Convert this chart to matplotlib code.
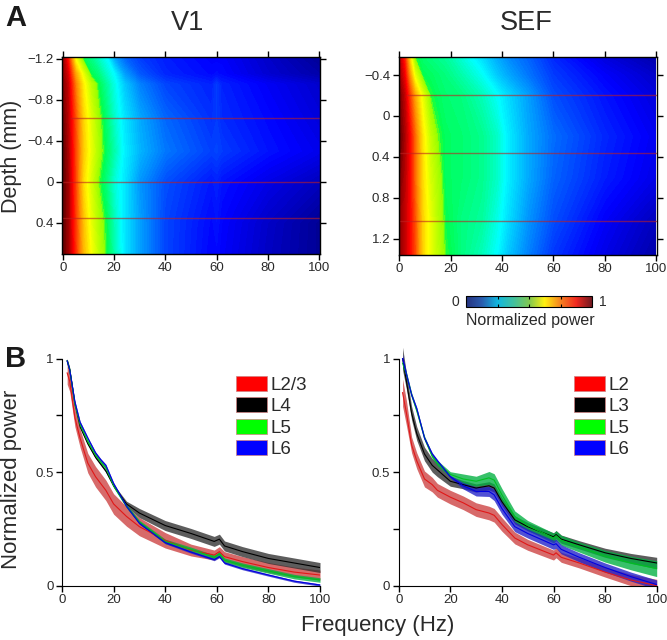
import numpy as np
import matplotlib
matplotlib.use("Agg")
import matplotlib.pyplot as plt
from matplotlib.cm import ScalarMappable
from matplotlib.colors import Normalize, LinearSegmentedColormap
from matplotlib.patches import Patch

plt.rcParams['font.family'] = ['Liberation Sans', 'DejaVu Sans']
plt.rcParams['axes.unicode_minus'] = True

W, H = 667, 640

# heat maps, values read at these frequencies / depths
v1_freq = [0, 2, 5, 8, 11, 14, 17, 20, 24, 30, 40, 58, 60, 62, 80, 100]
v1_depth = [-1.22, -1.05, -0.95, -0.6, -0.3, 0, 0.4, 0.71]
v1_power = [
    [.95, .85, .60, .48, .45, .41, .37, .28, .22, .18, .15, .12, .12, .12, .07, .02],
    [.96, .90, .72, .60, .49, .46, .41, .37, .28, .21, .16, .13, .135, .13, .08, .04],
    [.97, .92, .76, .64, .55, .49, .44, .39, .32, .25, .19, .155, .18, .155, .115, .075],
    [.99, .93, .80, .67, .59, .52, .47, .41, .35, .29, .225, .17, .18, .165, .13, .09],
    [1.0, .94, .81, .68, .60, .53, .48, .43, .36, .30, .24, .185, .19, .18, .14, .105],
    [1.0, .95, .81, .66, .58, .505, .46, .40, .35, .27, .20, .145, .155, .14, .10, .06],
    [1.0, .95, .82, .69, .60, .535, .49, .42, .35, .28, .19, .13, .14, .125, .07, .02],
    [1.0, .95, .83, .70, .62, .55, .495, .43, .35, .28, .19, .125, .13, .12, .065, .02],
]
v1_borders = [-0.617, 0.0, 0.35]
v1_border_start = [3.4, 0, 0]

sef_freq = [0, 2, 4, 6, 9, 12, 15, 18, 24, 32, 38, 42, 50, 60, 80, 100]
sef_depth = [-0.576, -0.4, -0.2, 0.2, 0.6, 1.0, 1.36]
sef_power = [
    [.93, .84, .66, .50, .47, .46, .45, .44, .40, .34, .29, .26, .22, .16, .09, .04],
    [.95, .88, .74, .60, .49, .48, .47, .46, .43, .38, .32, .29, .24, .18, .12, .07],
    [.98, .92, .82, .72, .60, .50, .48, .47, .46, .42, .375, .34, .28, .20, .14, .09],
    [1.0, .94, .87, .78, .65, .56, .505, .48, .47, .45, .41, .36, .29, .23, .16, .11],
    [.98, .93, .87, .78, .66, .58, .53, .48, .47, .45, .41, .36, .29, .22, .15, .10],
    [.96, .92, .87, .80, .67, .60, .54, .49, .46, .44, .39, .345, .27, .20, .12, .06],
    [.96, .92, .87, .81, .67, .60, .55, .50, .46, .42, .37, .32, .25, .175, .10, .04],
]
sef_borders = [-0.208, 0.36, 1.03]
sef_border_start = [3, 0, 0]

# spectra
v1_f = [2, 3, 5, 7, 10, 13, 15, 17, 20, 25, 30, 40, 50, 59, 61, 63, 70, 80, 90, 100]
v1_l23 = [.937, .90, .74, .65, .54, .48, .45, .42, .36, .305, .26, .20, .157, .135, .15, .128, .106, .08, .06, .047]
v1_l4 = [.99, .95, .80, .70, .625, .565, .535, .505, .44, .36, .32, .265, .23, .195, .205, .175, .15, .12, .10, .08]
v1_l5 = [.99, .95, .80, .71, .635, .575, .545, .52, .44, .35, .28, .195, .16, .125, .14, .112, .09, .065, .04, .025]
v1_l6 = [.99, .95, .81, .72, .65, .585, .555, .53, .45, .35, .275, .19, .148, .115, .128, .10, .075, .047, .02, .003]
v1_err = [.05, .045, .04, .04, .043, .045, .045, .045, .045, .043, .04, .034, .026, .022, .022, .022, .022, .022, .022, .022]
v1_err4 = [.01, .01, .008, .006, .005, .005, .005, .006, .006, .012, .02, .022, .022, .022, .022, .022, .022, .022, .022, .022]
v1_err5 = [.008] * 11 + [.01] * 9
v1_err6 = [.005] * 20

sef_f = [1.5, 3, 5, 7, 10, 13, 15, 20, 25, 30, 35, 37, 40, 45, 50, 60, 61, 63, 70, 80, 90, 100]
sef_l2 = [.85, .76, .62, .55, .47, .445, .42, .39, .365, .335, .32, .31, .27, .21, .18, .135, .145, .125, .10, .06, .025, .0]
sef_l3 = [1.0, .90, .76, .67, .58, .53, .51, .46, .445, .43, .44, .43, .37, .29, .26, .215, .225, .205, .18, .145, .12, .10]
sef_l5 = [.98, .93, .84, .77, .65, .57, .54, .49, .47, .46, .475, .465, .40, .305, .265, .21, .22, .20, .17, .13, .10, .075]
sef_l6 = [1.0, .93, .84, .78, .65, .58, .55, .48, .44, .415, .415, .40, .34, .26, .23, .18, .185, .16, .125, .08, .04, .005]
sef_err2 = [.06, .055, .035, .035, .035, .032, .03, .03, .03, .03, .03, .03, .03, .026, .024, .022, .022, .022, .022, .022, .025, .028]
sef_err3 = [.05, .035, .03, .03, .03, .03, .03, .022, .018, .018, .018, .018, .018, .018, .018, .018, .018, .018, .018, .02, .022, .025]
sef_err5 = [.02, .01, .01, .01, .01, .01, .012, .012, .022, .022, .028, .028, .028, .024, .022, .022, .022, .022, .022, .026, .03, .035]
sef_err6 = [.02, .01, .008, .006, .006, .006, .006, .006, .014, .02, .022, .025, .025, .022, .02, .02, .02, .02, .02, .02, .02, .02]

v1_labels = ['L2/3', 'L4', 'L5', 'L6']
sef_labels = ['L2', 'L3', 'L5', 'L6']
line_colors = ['#e01818', '#000000', '#00c020', '#0000e0']
band_colors = ['#cc4040', '#303030', '#00b040', '#2020c8']
legend_colors = ['#ff0000', '#000000', '#00ff00', '#0000ff']

text_color = '#2a2a2a'
bar_colors = ['#26327e', '#2a5cae', '#10b8e0', '#40c0a0', '#80c850', '#fff010', '#f58020', '#f02820', '#701820']

# jet with a harder step from green to yellow-green, as in the picture
map_cmap = LinearSegmentedColormap.from_list('map_jet', [
    (0, (0, 0, .5)), (.125, (0, 0, 1)), (.375, (0, 1, 1)), (.495, (0, 1, .3)),
    (.515, (.6, 1, 0)), (.625, (1, 1, 0)), (.75, (1, .55, 0)), (.875, (1, 0, 0)), (1, (.4, 0, 0))])


def make_axes(fig, left, top, right, bottom):
    return fig.add_axes([left / W, 1 - bottom / H, (right - left) / W, (bottom - top) / H])


def plot_map(ax, freq, depth, power, yticks, ylabels, ylim, xlim, borders, starts):
    ax.contourf(freq, depth, np.array(power), levels=np.linspace(0, 1, 129), cmap=map_cmap, vmin=0, vmax=1,
                antialiased=False)
    for b, s in zip(borders, starts):
        ax.plot([s, 100], [b, b], color='#c02020', alpha=0.6, lw=1.0)
    ax.set_xlim(xlim)
    ax.set_ylim(ylim)
    ax.set_xticks([0, 20, 40, 60, 80, 100])
    ax.set_yticks(yticks)
    ax.set_yticklabels(ylabels)
    ax.tick_params(top=True, right=True, direction='out', length=4, width=1, pad=2,
                   labelsize=9.5, labelcolor=text_color)
    for s in ax.spines.values():
        s.set_linewidth(1)


def plot_spectra(ax, f, means, errs, labels, legend_left):
    for m, e, lc, bc in zip(means, errs, line_colors, band_colors):
        m = np.array(m)
        e = np.array(e)
        ax.fill_between(f, m - e, m + e, color=bc, alpha=0.78, lw=0)
        ax.plot(f, m, color=lc, lw=0.8)
    ax.set_xlim(0, 100)
    ax.set_ylim(0, 1.06)
    ax.spines['top'].set_visible(False)
    ax.spines['right'].set_visible(False)
    ax.spines['left'].set_bounds(0, 1)
    ax.set_xticks([0, 20, 40, 60, 80, 100])
    ax.set_yticks([0, .25, .5, .75, 1])
    ax.set_yticklabels(['0', '', '0.5', '', '1'])
    ax.tick_params(direction='out', length=4, width=1, pad=2, labelsize=9.5, labelcolor=text_color)
    handles = [Patch(facecolor=c, edgecolor='#d08080', lw=0.5) for c in legend_colors]
    ax.legend(handles, labels, loc='upper left', bbox_to_anchor=(legend_left, 0.871), frameon=False,
              fontsize=13.5, handlelength=1.65, handleheight=0.85, handletextpad=0.2,
              labelspacing=0.18, borderpad=0, borderaxespad=0, labelcolor=text_color)


fig = plt.figure(figsize=(W / 100, H / 100), dpi=100)

ax1 = make_axes(fig, 62, 57, 320, 254)
plot_map(ax1, v1_freq, v1_depth, v1_power, [-1.2, -0.8, -0.4, 0, 0.4],
         ['\u22121.2', '\u22120.8', '\u22120.4', '0', '0.4'], (0.705, -1.217), (-0.3, 100.3),
         v1_borders, v1_border_start)

ax2 = make_axes(fig, 398.7, 57, 656.7, 255)
plot_map(ax2, sef_freq, sef_depth, sef_power, [-0.4, 0, 0.4, 0.8, 1.2],
         ['\u22120.4', '0', '0.4', '0.8', '1.2'], (1.359, -0.576), (-0.3, 100.3),
         sef_borders, sef_border_start)

ax3 = make_axes(fig, 62, 345, 320, 585.7)
plot_spectra(ax3, v1_f, [v1_l23, v1_l4, v1_l5, v1_l6], [v1_err, v1_err4, v1_err5, v1_err6], v1_labels, 0.675)

ax4 = make_axes(fig, 398.7, 345, 656.7, 585.7)
plot_spectra(ax4, sef_f, [sef_l2, sef_l3, sef_l5, sef_l6], [sef_err2, sef_err3, sef_err5, sef_err6], sef_labels, 0.68)

# colour bar under the SEF map
cax = make_axes(fig, 466, 296, 592.3, 307)
sm = ScalarMappable(norm=Normalize(0, 1), cmap=LinearSegmentedColormap.from_list('muted_jet', bar_colors))
cb = fig.colorbar(sm, cax=cax, orientation='horizontal')
cb.set_ticks([.25, .5, .75])
cb.set_ticklabels([])
cax.tick_params(direction='in', length=2, width=0.8, top=True)
cb.outline.set_linewidth(0.8)

fig.text(455 / W, 1 - 302 / H, '0', ha='center', va='center', fontsize=10, color=text_color)
fig.text(603 / W, 1 - 302 / H, '1', ha='center', va='center', fontsize=10, color=text_color)
fig.text(530 / W, 1 - 321 / H, 'Normalized power', ha='center', va='center', fontsize=11.5, color=text_color)

fig.text(188 / W, 1 - 22.5 / H, 'V1', ha='center', va='center', fontsize=19.5, color=text_color)
fig.text(526 / W, 1 - 22.5 / H, 'SEF', ha='center', va='center', fontsize=19.5, color=text_color)
fig.text(5 / W, 1 - 18.5 / H, 'A', ha='left', va='center', fontsize=21, fontweight='bold', color='#1a1a1a')
fig.text(5 / W, 1 - 359 / H, 'B', ha='left', va='center', fontsize=21, fontweight='bold', color='#1a1a1a')
fig.text(12 / W, 1 - 156 / H, 'Depth (mm)', rotation=90, ha='center', va='center', fontsize=15.5, color=text_color)
fig.text(12 / W, 1 - 479 / H, 'Normalized power', rotation=90, ha='center', va='center', fontsize=16, color=text_color)
fig.text(378 / W, 1 - 626 / H, 'Frequency (Hz)', ha='center', va='center', fontsize=16, color=text_color)

fig.savefig('out.png', dpi=100)
